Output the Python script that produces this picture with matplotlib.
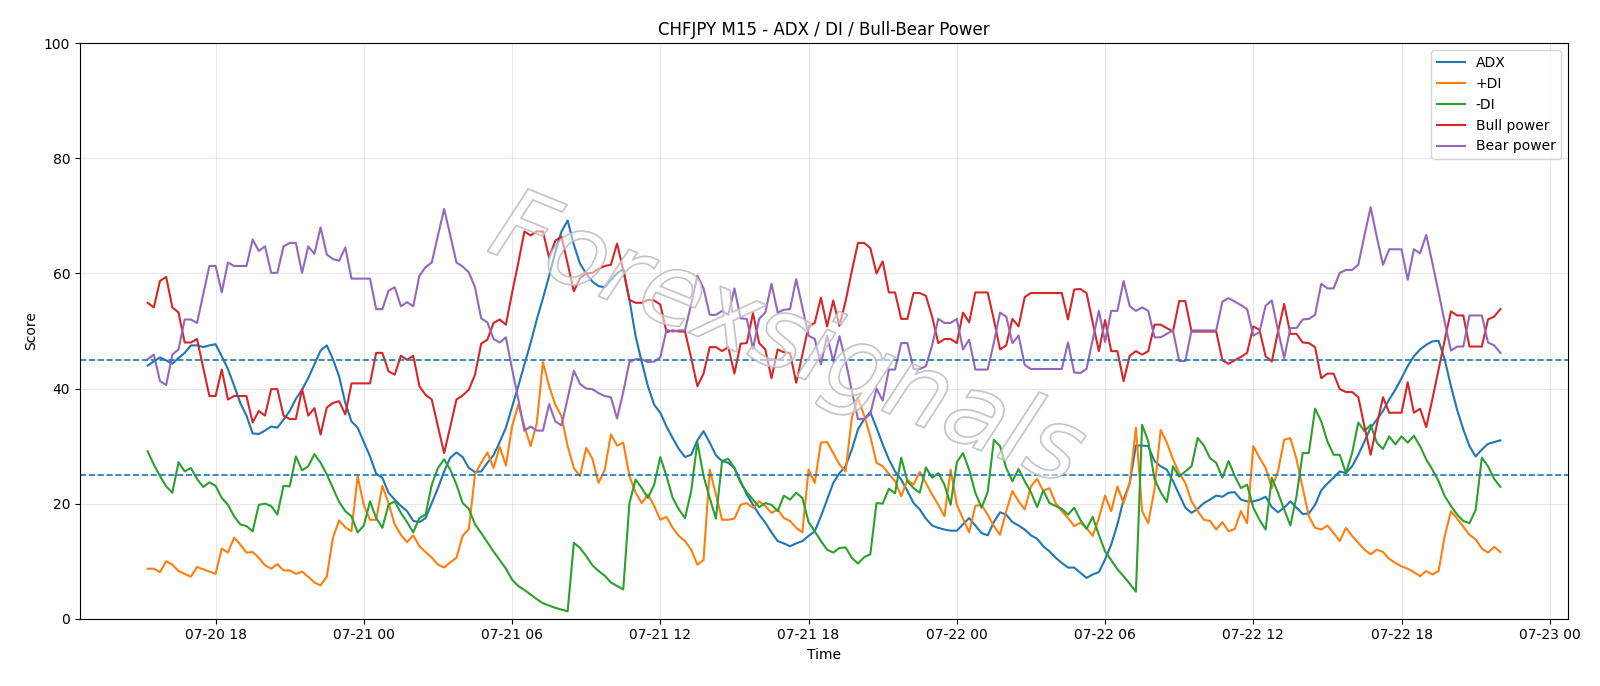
import numpy as np
import pandas as pd
import matplotlib
matplotlib.use("Agg")
import matplotlib.pyplot as plt
import matplotlib.dates as mdates
import matplotlib.patheffects as pe

# barras M15 de 2025-07-20 15:15 ate 2025-07-22 22:00
tempo = pd.date_range("2025-07-20 15:15", periods=220, freq="15min")

adx = [44.0, 44.7, 45.4, 44.9, 44.3, 45.3, 46.2, 47.5, 47.5, 47.2,
       47.5, 47.7, 45.6, 43.4, 40.5, 37.5, 35.3, 32.2, 32.1, 32.7,
       33.4, 33.2, 34.6, 36.1, 38.2, 39.8, 41.8, 44.2, 46.6, 47.5,
       45.1, 42.1, 37.5, 34.3, 33.2, 30.7, 28.2, 25.2,
       24.5, 21.9, 20.7, 19.6, 18.7, 17.0, 16.8, 17.5, 20.1, 22.7,
       25.6, 28.0, 28.9, 28.1, 26.2, 25.5, 25.6, 27.1, 28.4, 30.7,
       33.2, 36.8, 40.4, 44.2, 47.9, 52.0, 55.7, 59.6, 63.7, 67.3,
       69.2, 65.0, 61.7, 60.0, 58.6, 57.8, 57.6, 58.9,
       60.0, 60.8, 55.4, 49.1, 44.6, 40.4, 37.2, 35.8, 33.4, 31.4,
       29.5, 28.1, 28.5, 31.0, 32.6, 30.6, 28.4, 27.4, 27.1, 26.2,
       23.9, 21.6, 19.8, 18.1, 16.7, 15.0, 13.5, 13.1, 12.6, 13.1,
       13.5, 14.4, 15.2, 17.8, 20.7, 23.6, 25.3,
       26.5, 29.4, 32.9, 34.7, 35.9, 33.2, 30.3, 27.7, 25.6, 24.2,
       22.2, 20.1, 19.0, 17.4, 16.2, 15.8, 15.5, 15.3, 15.3, 16.4,
       17.5, 16.2, 14.9, 14.5, 16.8, 18.5, 18.1, 16.8, 16.2, 15.5,
       14.5, 13.9, 12.6, 11.7, 10.6, 9.7, 8.9, 8.9,
       8.0, 7.1, 7.7, 8.1, 10.3, 12.9, 16.4, 20.7, 23.6, 30.1,
       30.1, 30.0, 27.4, 26.5, 25.9, 23.9, 21.6, 19.3, 18.4, 19.1,
       20.1, 20.7, 21.4, 21.2, 21.9, 22.0, 20.7, 20.4, 20.4, 20.7,
       21.2, 19.4, 18.5, 19.3, 20.4, 19.3, 18.2,
       18.3, 19.8, 22.3, 23.5, 24.5, 25.6, 25.3, 26.5, 28.5, 30.8,
       33.2, 34.6, 36.1, 38.1, 39.8, 41.8, 43.9, 45.6, 46.8, 47.6,
       48.2, 48.3, 45.0, 40.4, 36.3, 32.9, 30.0, 28.2, 29.4, 30.4,
       30.7, 31.0]

di_mais = [8.7, 8.7, 8.1, 10.0, 9.4, 8.3, 7.8, 7.3, 9.0, 8.6,
           8.2, 7.8, 12.2, 11.5, 14.1, 12.9, 11.5, 11.6, 10.6, 9.3,
           8.7, 9.5, 8.4, 8.4, 7.8, 8.2, 7.3, 6.3, 5.8, 7.3,
           14.1, 17.1, 15.9, 15.2, 24.8, 19.7, 17.2, 17.2,
           23.1, 20.1, 16.4, 14.6, 13.3, 14.5, 12.6, 11.6, 10.6, 9.4,
           8.9, 9.8, 10.6, 14.4, 15.6, 25.1, 27.1, 28.9, 26.2, 29.9,
           26.6, 33.4, 37.2, 33.4, 30.0, 34.0, 44.6, 40.4, 37.2, 35.2,
           30.0, 26.2, 24.8, 29.7, 27.8, 23.6, 25.9, 32.0,
           30.1, 30.6, 24.8, 21.9, 20.1, 21.6, 19.6, 17.2, 17.7, 15.8,
           14.4, 13.5, 12.0, 9.4, 10.2, 25.9, 21.6, 17.2, 17.2, 17.4,
           19.8, 20.1, 19.3, 20.4, 19.6, 18.4, 19.0, 17.5, 17.0, 15.8,
           15.0, 25.9, 23.6, 30.6, 30.7, 28.8, 26.8,
           25.6, 34.9, 38.4, 35.3, 31.7, 27.1, 26.5, 25.2, 23.9, 21.3,
           24.1, 23.3, 25.5, 23.6, 21.6, 19.8, 17.8, 25.9, 19.8, 17.4,
           15.0, 19.6, 19.8, 18.1, 16.1, 14.6, 18.7, 22.2, 20.4, 19.0,
           23.0, 24.3, 22.2, 22.7, 20.1, 18.7, 17.5, 16.1,
           16.7, 15.8, 14.4, 17.5, 21.4, 18.7, 23.0, 20.1, 23.6, 33.2,
           18.7, 16.6, 22.5, 32.8, 30.6, 27.7, 25.3, 23.6, 20.4, 18.7,
           17.2, 17.0, 15.5, 16.8, 15.2, 15.6, 18.7, 16.6, 30.0, 28.0,
           26.2, 22.7, 25.6, 31.1, 31.4, 27.7, 22.7,
           17.8, 15.8, 15.5, 16.2, 14.9, 13.5, 15.8, 14.4, 13.2, 12.0,
           11.2, 12.0, 11.6, 10.4, 9.7, 9.1, 8.7, 8.1, 7.4, 8.3,
           7.7, 8.3, 14.4, 18.7, 17.4, 16.0, 14.6, 13.8, 12.2, 11.5,
           12.5, 11.6]

di_menos = [29.1, 26.8, 24.8, 23.0, 21.9, 27.2, 25.6, 26.2, 24.3, 22.9,
            23.7, 23.1, 21.0, 19.8, 17.8, 16.4, 16.1, 15.2, 19.8, 20.0,
            19.6, 18.1, 23.1, 23.0, 28.2, 25.8, 26.5, 28.6, 27.1, 25.1,
            22.7, 20.3, 18.7, 17.8, 15.0, 16.2, 20.4, 17.5,
            15.8, 19.8, 20.4, 18.4, 16.8, 15.0, 17.5, 18.1, 23.3, 26.2,
            27.7, 25.9, 23.3, 20.1, 19.1, 16.4, 14.9, 13.3, 11.7, 10.2,
            8.7, 6.8, 5.7, 5.0, 4.2, 3.4, 2.7, 2.3, 1.9, 1.6,
            1.3, 13.2, 12.3, 10.9, 9.3, 8.3, 7.5, 6.3,
            5.7, 5.1, 20.1, 24.2, 22.7, 21.0, 23.3, 28.1, 24.8, 21.0,
            19.0, 17.5, 22.2, 30.7, 24.8, 21.0, 17.4, 27.4, 27.8, 26.2,
            23.6, 22.0, 20.7, 19.4, 20.1, 19.8, 18.7, 21.4, 20.7, 21.9,
            21.0, 16.8, 15.2, 13.5, 12.0, 11.5, 12.3,
            12.4, 10.6, 9.6, 10.7, 11.2, 20.1, 20.0, 22.6, 21.8, 28.0,
            23.9, 22.7, 21.9, 26.3, 24.5, 25.3, 23.3, 19.8, 27.2, 28.8,
            25.9, 21.9, 19.3, 22.0, 31.1, 30.0, 26.2, 23.9, 26.0, 23.9,
            22.0, 19.4, 22.3, 20.1, 19.6, 19.1, 18.1, 19.3,
            17.2, 15.6, 17.7, 14.6, 11.7, 10.2, 8.6, 7.4, 6.1, 4.7,
            33.7, 30.8, 24.3, 22.0, 20.3, 26.5, 24.7, 25.6, 26.5, 31.4,
            30.1, 27.9, 27.1, 24.5, 27.4, 24.8, 22.7, 23.3, 19.3, 17.2,
            15.5, 24.5, 21.9, 19.0, 16.2, 21.3, 28.8,
            28.8, 36.5, 34.3, 30.8, 28.5, 28.5, 25.3, 28.8, 34.1, 32.6,
            33.7, 30.6, 29.5, 31.7, 30.3, 31.7, 30.6, 31.8, 30.0, 27.7,
            25.9, 23.9, 21.3, 19.6, 18.1, 17.0, 16.6, 18.9, 28.0, 26.5,
            24.3, 22.9]

bull = [54.9, 54.1, 58.7, 59.4, 54.1, 53.2, 48.0, 48.0, 48.6, 43.6,
        38.7, 38.7, 43.3, 38.1, 38.7, 38.7, 38.7, 34.1, 36.1, 35.3,
        39.9, 39.9, 35.3, 34.7, 34.7, 39.9, 35.3, 36.6, 32.0, 36.7,
        37.5, 37.8, 35.5, 40.9, 40.9, 40.9, 40.9, 46.2,
        46.2, 43.0, 42.4, 45.7, 45.0, 45.7, 40.4, 38.9, 38.1, 33.4,
        28.8, 33.4, 38.1, 38.8, 39.8, 42.4, 47.8, 48.5, 51.4, 52.0,
        51.1, 56.6, 61.8, 67.3, 66.6, 67.3, 67.3, 62.7, 65.7, 66.4,
        61.7, 56.9, 59.2, 60.0, 60.1, 60.8, 61.3, 61.5,
        65.2, 60.6, 55.4, 54.9, 54.9, 55.4, 55.3, 54.6, 49.8, 50.1,
        49.9, 49.9, 45.3, 40.4, 42.6, 47.2, 47.2, 46.5, 47.2, 42.6,
        47.8, 47.9, 53.1, 47.9, 46.8, 41.8, 46.8, 46.3, 46.2, 41.0,
        45.9, 50.8, 51.4, 55.8, 50.8, 55.3, 50.9,
        55.2, 60.4, 65.3, 65.3, 64.4, 60.0, 62.1, 56.7, 56.7, 52.1,
        52.1, 56.6, 56.6, 56.1, 52.5, 47.9, 48.6, 48.6, 47.9, 53.2,
        51.5, 56.7, 56.7, 56.7, 52.0, 46.8, 47.5, 52.1, 50.8, 55.9,
        56.6, 56.6, 56.6, 56.6, 56.6, 56.6, 52.0, 57.2,
        57.3, 56.6, 51.5, 46.5, 51.9, 46.5, 46.5, 41.3, 45.7, 46.5,
        45.9, 46.5, 51.1, 51.1, 50.5, 49.9, 55.2, 55.2, 49.9, 49.9,
        49.9, 49.9, 49.9, 44.9, 44.3, 44.9, 45.5, 46.2, 50.8, 50.2,
        45.6, 44.7, 49.9, 54.7, 49.5, 49.5, 48.0,
        47.9, 47.2, 41.8, 42.6, 42.6, 39.9, 39.4, 39.4, 38.5, 33.4,
        28.5, 33.7, 38.5, 35.8, 35.8, 35.8, 41.1, 35.8, 36.5, 33.3,
        38.2, 43.3, 48.5, 53.4, 52.7, 52.7, 47.3, 47.3, 47.3, 52.0,
        52.5, 53.8]

bear = [45.1, 45.9, 41.3, 40.6, 45.9, 46.8, 52.0, 52.0, 51.4, 56.4,
        61.3, 61.3, 56.7, 61.9, 61.3, 61.3, 61.3, 65.9, 63.9, 64.7,
        60.1, 60.1, 64.7, 65.3, 65.3, 60.1, 64.7, 63.4, 68.0, 63.3,
        62.5, 62.2, 64.5, 59.1, 59.1, 59.1, 59.1, 53.8,
        53.8, 57.0, 57.6, 54.3, 55.0, 54.3, 59.6, 61.1, 61.9, 66.6,
        71.2, 66.6, 61.9, 61.2, 60.2, 57.6, 52.2, 51.5, 48.6, 48.0,
        48.9, 43.4, 38.2, 32.7, 33.4, 32.7, 32.7, 37.3, 34.3, 33.6,
        38.3, 43.1, 40.8, 40.0, 39.9, 39.2, 38.7, 38.5,
        34.8, 39.4, 44.6, 45.1, 45.1, 44.6, 44.7, 45.4, 50.2, 49.9,
        50.1, 50.1, 54.7, 59.6, 57.4, 52.8, 52.8, 53.5, 52.8, 57.4,
        52.2, 52.1, 46.9, 52.1, 53.2, 58.2, 53.2, 53.7, 53.8, 59.0,
        54.1, 49.2, 48.6, 44.2, 49.2, 44.7, 49.1,
        44.8, 39.6, 34.7, 34.7, 35.6, 40.0, 37.9, 43.3, 43.3, 47.9,
        47.9, 43.4, 43.4, 43.9, 47.5, 52.1, 51.4, 51.4, 52.1, 46.8,
        48.5, 43.3, 43.3, 43.3, 48.0, 53.2, 52.5, 47.9, 49.2, 44.1,
        43.4, 43.4, 43.4, 43.4, 43.4, 43.4, 48.0, 42.8,
        42.7, 43.4, 48.5, 53.5, 48.1, 53.5, 53.5, 58.7, 54.3, 53.5,
        54.1, 53.5, 48.9, 48.9, 49.5, 50.1, 44.8, 44.8, 50.1, 50.1,
        50.1, 50.1, 50.1, 55.1, 55.7, 55.1, 54.5, 53.8, 49.2, 49.8,
        54.4, 55.3, 50.1, 45.3, 50.5, 50.5, 52.0,
        52.1, 52.8, 58.2, 57.4, 57.4, 60.1, 60.6, 60.6, 61.5, 66.6,
        71.5, 66.3, 61.5, 64.2, 64.2, 64.2, 58.9, 64.2, 63.5, 66.7,
        61.8, 56.7, 51.5, 46.6, 47.3, 47.3, 52.7, 52.7, 52.7, 48.0,
        47.5, 46.2]

niveis = [25, 45]

fig, ax = plt.subplots(figsize=(16, 6.86), dpi=100)
fig.subplots_adjust(left=0.05, right=0.98, top=0.937, bottom=0.098)

ax.plot(tempo, adx, label="ADX")
ax.plot(tempo, di_mais, label="+DI")
ax.plot(tempo, di_menos, label="-DI")
ax.plot(tempo, bull, label="Bull power")
ax.plot(tempo, bear, label="Bear power")

for nivel in niveis:
    ax.axhline(nivel, linestyle="--", color="tab:blue", linewidth=1.2)

# marca d'agua (contorno cinza claro, preenchimento branco translucido)
ax.text(0.475, 0.48, "Forexsignals", transform=ax.transAxes, fontsize=72,
        style="italic", rotation=-22, ha="center", va="center",
        color=(1, 1, 1, 0.3), zorder=5,
        path_effects=[pe.Stroke(linewidth=1.3, foreground=(0.7, 0.7, 0.7, 0.85)),
                      pe.Normal()])

ax.set_ylim(0, 100)
ax.xaxis.set_major_locator(mdates.HourLocator(byhour=[0, 6, 12, 18]))
ax.xaxis.set_major_formatter(mdates.DateFormatter("%m-%d %H"))
ax.set_title("CHFJPY M15 - ADX / DI / Bull-Bear Power")
ax.set_xlabel("Time")
ax.set_ylabel("Score")
ax.grid(True, alpha=0.3)
ax.legend(loc="upper right")

plt.savefig("out.png")
